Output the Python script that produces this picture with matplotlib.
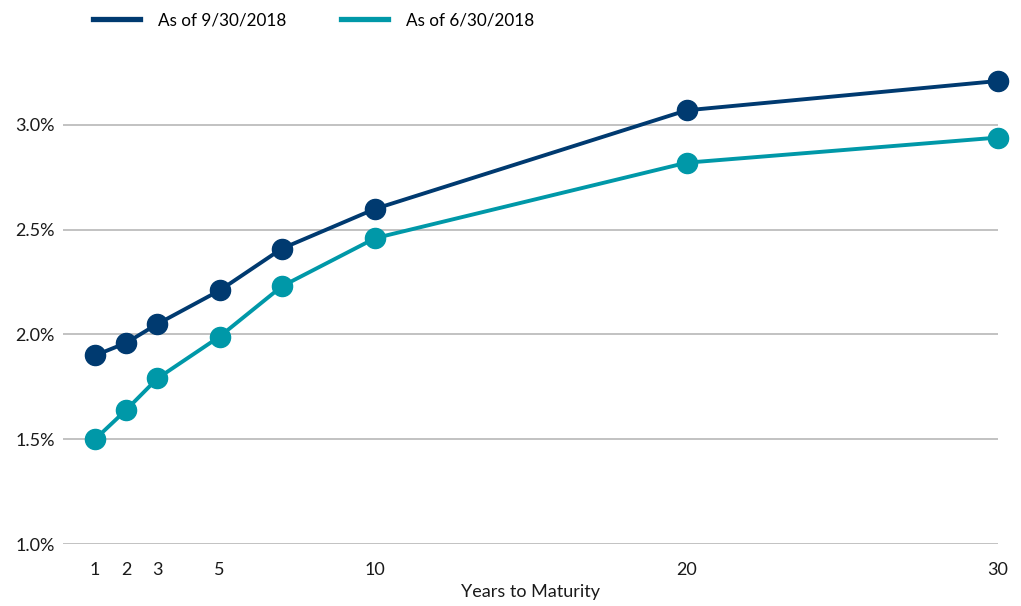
import matplotlib
matplotlib.use("Agg")
import matplotlib.pyplot as plt
from matplotlib.ticker import FuncFormatter

plt.rcParams['font.family'] = ['Lato', 'DejaVu Sans']

years = [1, 2, 3, 5, 7, 10, 20, 30]
sep_2018 = [1.90, 1.96, 2.05, 2.21, 2.41, 2.60, 3.07, 3.21]
jun_2018 = [1.50, 1.64, 1.79, 1.99, 2.23, 2.46, 2.82, 2.94]
x_ticks = [1, 2, 3, 5, 10, 20, 30]
y_ticks = [1.0, 1.5, 2.0, 2.5, 3.0]
series_labels = ["As of 9/30/2018", "As of 6/30/2018"]

navy = "#003A70"
teal = "#0098A8"

fig = plt.figure(figsize=(10.21, 6.06), dpi=100)
ax = fig.add_axes([0.0617, 0.1023, 0.9158, 0.7779])

ax.plot(years, sep_2018, color=navy, lw=2.8, marker='o', ms=14.5,
        label=series_labels[0], clip_on=False, zorder=4)
ax.plot(years, jun_2018, color=teal, lw=2.8, marker='o', ms=14.5,
        label=series_labels[1], clip_on=False, zorder=3)

ax.set_xlim(-0.03, 30)
ax.set_ylim(1.0, 3.25)
ax.set_xticks(x_ticks)
ax.set_yticks(y_ticks)
ax.yaxis.set_major_formatter(FuncFormatter(lambda v, p: f"{v:.1f}%"))
ax.grid(axis='y', color='#BDBDBD', lw=1.3, zorder=0)
ax.set_axisbelow(True)
for s in ax.spines.values():
    s.set_visible(False)
ax.tick_params(axis='both', length=0, labelsize=13, colors='#1a1a1a')
ax.tick_params(axis='x', pad=13)
ax.tick_params(axis='y', pad=6)
ax.set_xlabel("Years to Maturity", fontsize=13, color='#1a1a1a', labelpad=4)

leg = fig.legend(loc='upper left', bbox_to_anchor=(0.0764, 1.005), ncol=2,
                 frameon=False, fontsize=12.3, handlelength=2.75, handletextpad=1.05,
                 columnspacing=3.2)
for h in leg.legend_handles:
    h.set_marker('')
    h.set_linewidth(3.8)

fig.savefig("out.png", dpi=100)
